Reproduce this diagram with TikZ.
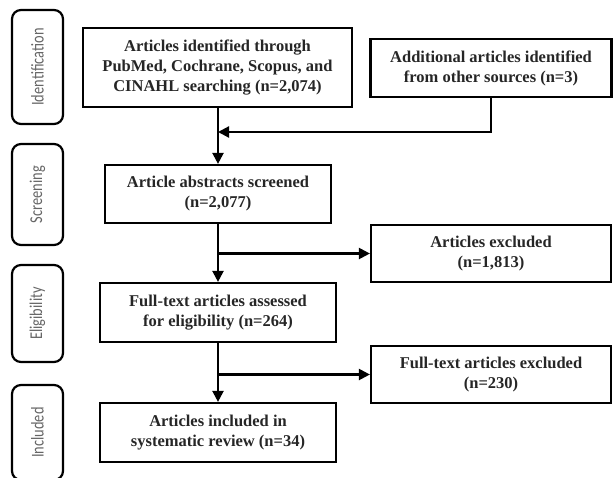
\documentclass[tikz,border=0pt]{standalone}
\usepackage{fontspec}
\setmainfont{Liberation Serif}
\newfontfamily\phasefont{Carlito}
\usetikzlibrary{arrows.meta}
\begin{document}
\begin{tikzpicture}[x=1pt,y=-1pt,
  box/.style={draw=black,line width=2.2pt,rectangle,align=center,
    font=\fontsize{16.5}{20}\selectfont\bfseries,text=black!85,inner sep=0pt},
  phase/.style={draw=black,line width=2.2pt,rounded corners=9pt,
    minimum width=51pt,inner sep=0pt},
  plabel/.style={rotate=90,xscale=0.8,font=\phasefont\fontsize{18}{20}\selectfont,text=black!60},
  arr/.style={line width=2.2pt,-{Triangle[width=11pt,length=11pt]}}]
\useasboundingbox (0,0) rectangle (613,477);
\clip (0,0) rectangle (613,477);
% phase boxes
\node[phase,minimum height=114pt] (pid) at (37.5,67) {};
\node[plabel] at (pid) {Identification};
\node[phase,minimum height=101pt] (psc) at (37.5,194.5) {};
\node[plabel] at (psc) {Screening};
\node[phase,minimum height=97pt] (pel) at (37.5,313.5) {};
\node[plabel] at (pel) {Eligibility};
\node[phase,minimum height=95pt] (pin) at (37.5,432.5) {};
\node[plabel] at (pin) {Included};
% main boxes
\node[box,minimum width=269pt,minimum height=79pt] (b1) at (217.5,67.5)
  {Articles identified through\\PubMed, Cochrane, Scopus, and\\CINAHL searching (n=2,074)};
\node[box,minimum width=241pt,minimum height=58pt] (add) at (491,68)
  {Additional articles identified\\from other sources (n=3)};
\node[box,minimum width=226pt,minimum height=58pt] (b2) at (218,194)
  {Article abstracts screened\\(n=2,077)};
\node[box,minimum width=240pt,minimum height=57pt] (ex1) at (491,253.5)
  {Articles excluded\\(n=1,813)};
\node[box,minimum width=236pt,minimum height=59pt] (b3) at (218,312.5)
  {Full-text articles assessed\\for eligibility (n=264)};
\node[box,minimum width=240pt,minimum height=57pt] (ex2) at (491,374.5)
  {Full-text articles excluded\\(n=230)};
\node[box,minimum width=236pt,minimum height=59pt] (b4) at (218,432.5)
  {Articles included in\\systematic review (n=34)};
% connectors
\coordinate (j1) at (218,132);
\draw[arr] (b1.south -| b2.north) -- (b2.north);
\draw[arr] (add.south) |- (j1);
\draw[arr] (b2.south) -- (b3.north);
\coordinate (j2) at (b2.south |- ex1.west);
\draw[arr] (j2) -- (ex1.west);
\draw[arr] (b3.south) -- (b4.north);
\coordinate (j3) at (b3.south |- ex2.west);
\draw[arr] (j3) -- (ex2.west);
\end{tikzpicture}
\end{document}
